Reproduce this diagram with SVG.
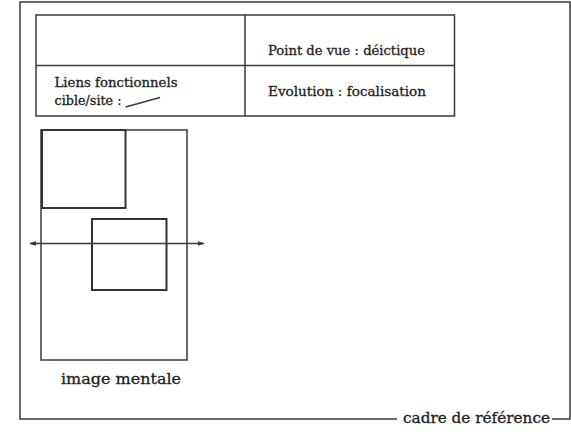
<svg xmlns="http://www.w3.org/2000/svg" width="571" height="432" viewBox="0 0 571 432">
<style>
.ln{fill:none;stroke:#3a3a3a;stroke-width:1.5}
.thk{fill:none;stroke:#333;stroke-width:2}
.t{font-family:"DejaVu Serif","Liberation Serif",serif;fill:#222;stroke:#222;stroke-width:0.3}
</style>
<defs>
<marker id="ah" viewBox="0 0 10 10" refX="9" refY="5" markerWidth="7" markerHeight="7" orient="auto-start-reverse" markerUnits="userSpaceOnUse">
<path d="M0,1.5 L10,5 L0,8.5 Z" fill="#333"/>
</marker>
</defs>
<rect width="571" height="432" fill="#fff"/>
<g id="cadre">
<path class="ln" d="M397,419 L20,419 L20,2 L570,2 L570,419 L552,419"/>
<text class="t" x="403" y="423" font-size="14.5" textLength="147" lengthAdjust="spacingAndGlyphs">cadre de référence</text>
</g>
<g id="tableau">
<rect class="ln" x="36" y="15" width="418.5" height="101"/>
<line class="ln" x1="36" y1="65.5" x2="454.5" y2="65.5"/>
<line class="ln" x1="245" y1="15" x2="245" y2="116"/>
<text class="t" x="268" y="55" font-size="13" textLength="157" lengthAdjust="spacingAndGlyphs">Point de vue : déictique</text>
<text class="t" x="268" y="96" font-size="13" textLength="158" lengthAdjust="spacingAndGlyphs">Evolution :  focalisation</text>
<text class="t" x="54.5" y="87" font-size="12" textLength="123" lengthAdjust="spacingAndGlyphs">Liens fonctionnels</text>
<text class="t" x="54.5" y="104.5" font-size="12" textLength="67" lengthAdjust="spacingAndGlyphs">cible/site :</text>
<line class="ln" x1="125.5" y1="107" x2="160" y2="97.5" stroke-width="1.6"/>
</g>
<g id="image-mentale">
<rect class="ln" x="41" y="130" width="146" height="230"/>
<rect class="thk" x="42" y="130" width="83.5" height="78"/>
<rect class="thk" x="92" y="219" width="74.5" height="71"/>
<text class="t" x="61" y="384" font-size="15.5" textLength="120" lengthAdjust="spacingAndGlyphs">image mentale</text>
</g>
<g id="connecteurs">
<line class="ln" x1="30" y1="243.5" x2="204" y2="243.5" marker-start="url(#ah)" marker-end="url(#ah)"/>
</g>
</svg>
